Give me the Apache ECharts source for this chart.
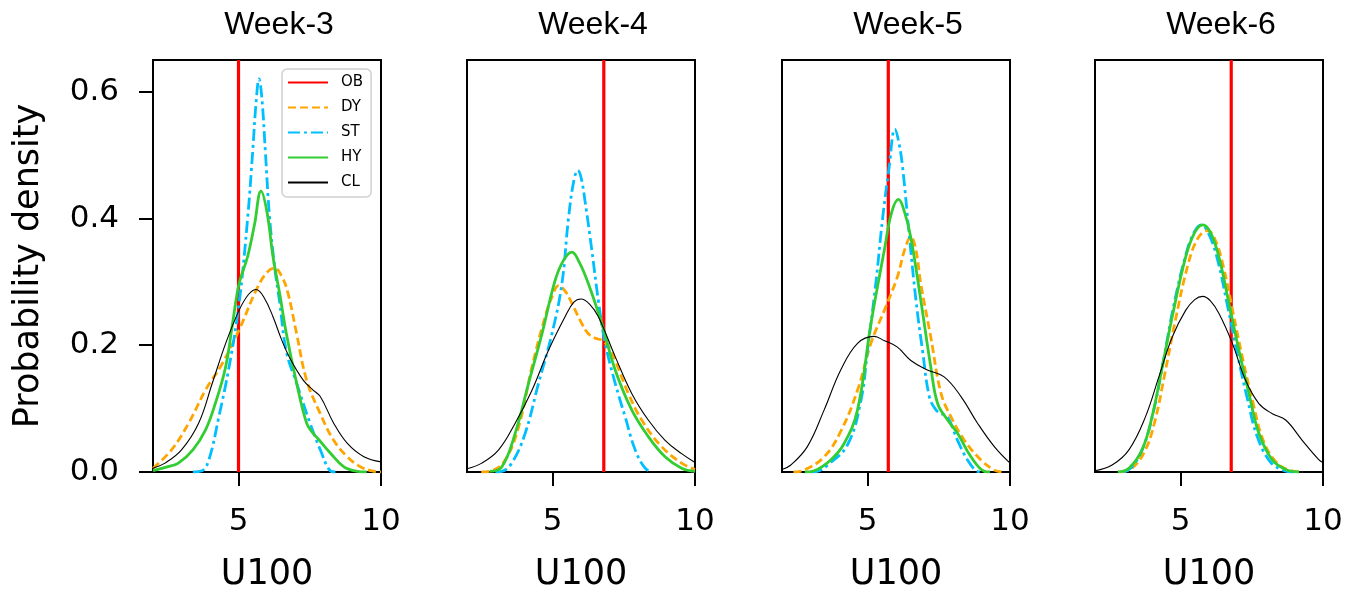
<!DOCTYPE html>
<html>
<head>
<meta charset="utf-8">
<script src="https://cdn.jsdelivr.net/npm/echarts@6/dist/echarts.min.js"></script>
<style>
html,body{margin:0;padding:0;background:#fff;}
#chart{width:1359px;height:591px;}
</style>
</head>
<body>
<div id="chart"></div>
<script>
// ---- Data ----
const weeks = ['Week-3', 'Week-4', 'Week-5', 'Week-6'];
const seriesNames = ['OB', 'DY', 'ST', 'HY', 'CL'];
const xTicks = [5, 10];
const yTicks = [0, 0.2, 0.4, 0.6];
const xRange = [2, 10];
const yRange = [0, 0.65];

// observed value (vertical red line) for each week
const obValues = [5.0, 6.8, 5.73, 6.78];

// KDE curves: [U100, density]
const w3_DY = [[2.0,0.006],[2.65,0.035],[3.25,0.077],[3.84,0.129],[4.43,0.171],[5.02,0.224],[5.62,0.287],[6.0,0.315],[6.27,0.322],[6.5,0.31],[6.72,0.285],[7.04,0.218],[7.39,0.145],[7.87,0.092],[8.34,0.05],[8.82,0.024],[9.29,0.008],[9.76,0.001],[10,0]];
const w3_ST = [[3.4,0],[3.72,0.002],[3.96,0.019],[4.31,0.087],[4.67,0.166],[5.02,0.266],[5.32,0.40],[5.5,0.507],[5.62,0.585],[5.72,0.62],[5.82,0.59],[5.94,0.507],[6.09,0.402],[6.27,0.323],[6.45,0.266],[6.68,0.19],[7.04,0.14],[7.51,0.077],[7.87,0.035],[8.22,0.002],[8.4,0]];
const w3_HY = [[2.0,0.002],[2.5,0.008],[2.89,0.014],[3.4,0.035],[3.84,0.066],[4.2,0.11],[4.55,0.166],[4.79,0.234],[5.02,0.297],[5.32,0.34],[5.56,0.39],[5.79,0.443],[6.0,0.41],[6.21,0.34],[6.45,0.28],[6.68,0.218],[7.04,0.14],[7.39,0.077],[7.6,0.062],[7.8,0.052],[8.22,0.03],[8.7,0.008],[9.17,0.001],[9.5,0]];
const w3_CL = [[2.0,0.006],[2.42,0.014],[3.0,0.035],[3.6,0.077],[4.08,0.14],[4.55,0.203],[5.02,0.255],[5.35,0.28],[5.62,0.288],[5.9,0.275],[6.21,0.245],[6.5,0.21],[6.8,0.18],[7.27,0.145],[7.6,0.13],[7.87,0.119],[8.34,0.077],[8.82,0.045],[9.4,0.024],[10,0.016]];

const w4_DY = [[2.5,0],[2.87,0.002],[3.34,0.019],[3.81,0.071],[4.28,0.166],[4.74,0.245],[5.0,0.278],[5.21,0.294],[5.45,0.285],[5.68,0.266],[6.03,0.234],[6.26,0.218],[6.5,0.211],[6.73,0.208],[7.0,0.195],[7.2,0.176],[7.66,0.124],[8.13,0.082],[8.83,0.04],[9.53,0.014],[10,0.004]];
const w4_ST = [[3.0,0],[3.22,0.001],[3.57,0.014],[4.04,0.061],[4.51,0.14],[4.98,0.218],[5.33,0.297],[5.56,0.40],[5.75,0.46],[5.89,0.476],[6.0,0.465],[6.14,0.428],[6.38,0.35],[6.61,0.27],[6.85,0.203],[7.2,0.14],[7.55,0.087],[7.9,0.035],[8.25,0.006],[8.5,0]];
const w4_HY = [[2.8,0.001],[3.22,0.008],[3.69,0.061],[4.16,0.14],[4.63,0.218],[5.09,0.302],[5.4,0.335],[5.68,0.347],[5.95,0.33],[6.26,0.297],[6.73,0.234],[7.2,0.161],[7.78,0.098],[8.36,0.056],[8.95,0.024],[9.53,0.006],[10,0.001]];
const w4_CL = [[2.0,0.005],[2.52,0.014],[3.11,0.035],[3.69,0.077],[4.28,0.129],[4.86,0.192],[5.44,0.245],[5.75,0.268],[6.0,0.273],[6.3,0.265],[6.61,0.245],[7.2,0.182],[7.78,0.124],[8.36,0.082],[8.95,0.05],[9.53,0.029],[10,0.015]];

const w5_DY = [[2.4,0],[2.78,0.003],[3.48,0.024],[4.06,0.064],[4.65,0.129],[5.12,0.203],[5.59,0.255],[6.05,0.308],[6.3,0.35],[6.52,0.371],[6.7,0.35],[6.87,0.297],[7.22,0.213],[7.58,0.124],[7.93,0.087],[8.4,0.05],[8.98,0.019],[9.45,0.003],[9.7,0]];
const w5_ST = [[3.0,0],[3.24,0.001],[3.6,0.011],[4.3,0.043],[4.77,0.113],[5.0,0.192],[5.29,0.297],[5.53,0.40],[5.76,0.481],[5.96,0.541],[6.1,0.52],[6.23,0.481],[6.46,0.376],[6.7,0.271],[6.93,0.192],[7.17,0.119],[7.4,0.098],[7.6,0.092],[7.81,0.087],[8.16,0.05],[8.51,0.019],[8.86,0.001],[9.0,0]];
const w5_HY = [[2.8,0],[3.13,0.002],[3.71,0.019],[4.18,0.045],[4.65,0.098],[5.12,0.234],[5.59,0.35],[5.85,0.41],[6.09,0.43],[6.3,0.41],[6.52,0.37],[6.87,0.271],[7.22,0.166],[7.46,0.108],[7.81,0.082],[8.16,0.061],[8.63,0.024],[9.1,0.001],[9.3,0]];
const w5_CL = [[2.0,0.004],[2.31,0.011],[2.89,0.04],[3.48,0.098],[4.06,0.161],[4.65,0.203],[5.23,0.214],[5.6,0.207],[6.05,0.197],[6.52,0.176],[7.1,0.161],[7.69,0.15],[8.28,0.119],[8.86,0.077],[9.45,0.04],[10,0.014]];

const w6_DY = [[2.9,0],[3.3,0.006],[3.75,0.033],[4.1,0.08],[4.45,0.155],[4.8,0.235],[5.25,0.325],[5.6,0.368],[5.94,0.381],[6.2,0.368],[6.5,0.325],[6.85,0.25],[7.2,0.175],[7.55,0.108],[7.9,0.05],[8.35,0.016],[8.8,0.003],[9.3,0]];
const w6_ST = [[3.0,0],[3.3,0.008],[3.7,0.04],[4.05,0.095],[4.4,0.175],[4.75,0.26],[5.2,0.345],[5.5,0.38],[5.73,0.39],[6.0,0.375],[6.3,0.335],[6.65,0.262],[7.0,0.185],[7.35,0.115],[7.7,0.055],[8.15,0.016],[8.6,0.003],[9.0,0]];
const w6_HY = [[2.8,0],[3.19,0.006],[3.65,0.035],[4.0,0.087],[4.36,0.166],[4.71,0.245],[5.18,0.339],[5.5,0.378],[5.78,0.39],[6.05,0.378],[6.35,0.339],[6.7,0.266],[7.05,0.192],[7.4,0.124],[7.75,0.061],[8.22,0.019],[8.69,0.004],[9.16,0]];
const w6_CL = [[2.0,0.002],[2.6,0.011],[3.19,0.035],[3.77,0.087],[4.24,0.15],[4.71,0.213],[5.18,0.255],[5.5,0.272],[5.78,0.277],[6.05,0.27],[6.35,0.25],[6.82,0.203],[7.28,0.145],[7.75,0.108],[8.22,0.092],[8.69,0.082],[9.27,0.05],[9.86,0.019],[10,0.015]];

const curves = [
  {DY: w3_DY, ST: w3_ST, HY: w3_HY, CL: w3_CL},
  {DY: w4_DY, ST: w4_ST, HY: w4_HY, CL: w4_CL},
  {DY: w5_DY, ST: w5_ST, HY: w5_HY, CL: w5_CL},
  {DY: w6_DY, ST: w6_ST, HY: w6_HY, CL: w6_CL}
];

// ---- Styles / layout ----
const styles = {
  OB: {color: '#ff0000', width: 3.2, type: 'solid'},
  DY: {color: '#ffa500', width: 2.8, type: [8, 4]},
  ST: {color: '#00bfff', width: 2.8, type: [12, 4, 3, 4]},
  HY: {color: '#32cd32', width: 2.8, type: 'solid'},
  CL: {color: '#000000', width: 1.1, type: 'solid'}
};
const gridLefts = [153, 467, 782, 1095];
const gridWidth = 228, gridTop = 60, gridHeight = 412;
const tickFont = 'DejaVu Sans';

const grids = [], xAxes = [], yAxes = [], series = [], titles = [];
weeks.forEach((wk, i) => {
  grids.push({left: gridLefts[i], top: gridTop, width: gridWidth, height: gridHeight,
    outerBoundsMode: 'none', containLabel: false,
    show: true, borderColor: '#000', borderWidth: 2, backgroundColor: 'transparent'});
  titles.push({text: wk, left: gridLefts[i] + gridWidth / 2 + 7, top: 4, textAlign: 'center',
    textStyle: {fontFamily: 'Liberation Sans', fontSize: 32, fontWeight: 'normal', color: '#000'}});
  xAxes.push({type: 'value', gridIndex: i, min: xRange[0], max: xRange[1],
    axisLine: {show: true, onZero: false, lineStyle: {color: '#000', width: 2}},
    axisTick: {show: true, length: 14, lineStyle: {color: '#000', width: 2}, customValues: xTicks},
    axisLabel: {show: true, customValues: xTicks, margin: 34, fontFamily: tickFont, fontSize: 31, color: '#000'},
    splitLine: {show: false},
    name: 'U100', nameLocation: 'middle', nameGap: 85,
    nameTextStyle: {fontFamily: tickFont, fontSize: 35, color: '#000'}});
  const first = i === 0;
  yAxes.push({type: 'value', gridIndex: i, min: yRange[0], max: yRange[1],
    axisLine: {show: true, lineStyle: {color: '#000', width: 2}},
    axisTick: {show: first, length: 14, lineStyle: {color: '#000', width: 2}, customValues: yTicks},
    axisLabel: {show: first, customValues: yTicks, margin: 34, fontFamily: tickFont, fontSize: 31, color: '#000',
      formatter: v => v.toFixed(1)},
    splitLine: {show: false},
    name: first ? 'Probability density' : '', nameLocation: 'middle', nameGap: 107,
    nameTextStyle: {fontFamily: tickFont, fontSize: 35, color: '#000'}});
  // observed vertical line
  series.push({name: 'OB', type: 'line', xAxisIndex: i, yAxisIndex: i, symbol: 'none', silent: true,
    data: [[obValues[i], yRange[0]], [obValues[i], yRange[1]]],
    lineStyle: {color: styles.OB.color, width: styles.OB.width, type: styles.OB.type},
    itemStyle: {color: styles.OB.color}, z: 2});
  ['DY', 'ST', 'HY', 'CL'].forEach((nm, k) => {
    series.push({name: nm, type: 'line', xAxisIndex: i, yAxisIndex: i, symbol: 'none', smooth: 0.4,
      data: curves[i][nm], clip: true,
      lineStyle: {color: styles[nm].color, width: styles[nm].width, type: styles[nm].type},
      itemStyle: {color: styles[nm].color}, z: 3 + k});
  });
});

const chart = echarts.init(document.getElementById('chart'), null, {renderer: 'canvas'});
chart.setOption({
  animation: false,
  backgroundColor: '#fff',
  title: titles,
  grid: grids,
  xAxis: xAxes,
  yAxis: yAxes,
  legend: {
    data: seriesNames, orient: 'vertical', left: 282, top: 69,
    itemWidth: 40, itemHeight: 14, itemGap: 10,
    padding: [6, 8, 7, 5],
    itemStyle: {opacity: 0, borderWidth: 0},
    backgroundColor: 'rgba(255,255,255,0.85)', borderColor: '#d0d0d0', borderWidth: 1.5, borderRadius: 5,
    textStyle: {fontFamily: tickFont, fontSize: 15, color: '#000', padding: [0, 0, 0, 8]}
  },
  series: series
});
</script>
</body>
</html>
